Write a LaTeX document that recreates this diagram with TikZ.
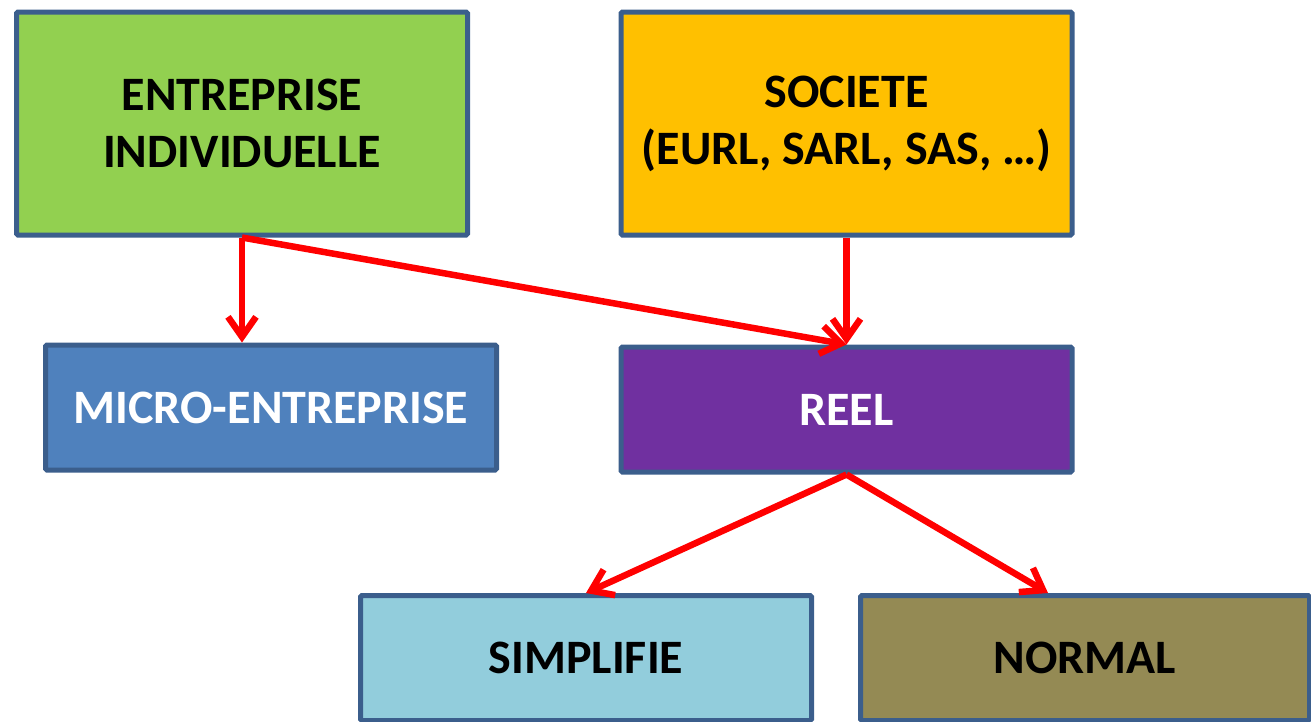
\documentclass[tikz,border=0pt]{standalone}
\usepackage{fontspec}
\setmainfont{Carlito}
\usetikzlibrary{arrows.meta}
\definecolor{bord}{HTML}{3B5E8C}
\definecolor{eigreen}{HTML}{92D050}
\definecolor{socorange}{HTML}{FFC000}
\definecolor{microblue}{HTML}{4F81BD}
\definecolor{reelpurple}{HTML}{7030A0}
\definecolor{simplblue}{HTML}{92CDDC}
\definecolor{normolive}{HTML}{948A54}
\begin{document}
\begin{tikzpicture}[x=1pt,y=-1pt,
  box/.style={draw=bord,line width=5pt,rounded corners=1.5pt,minimum width=451pt,
    font=\fontsize{48}{57}\selectfont\bfseries,align=center},
  tall/.style={box,minimum height=223pt},
  low/.style={box,minimum height=125pt},
  link/.style={draw=red,line width=6.5pt,-{Straight Barb[length=20pt,width=28pt]}}]
  \useasboundingbox (0,0) rectangle (1311,721);
  % top row
  \node[tall,fill=eigreen] (ei) at (242,123.5) {ENTREPRISE\\INDIVIDUELLE};
  \node[tall,fill=socorange] (soc) at (846.5,123.5) {SOCIETE\\(EURL, SARL, SAS, …)};
  % middle row
  \node[low,fill=microblue,text=white] (micro) at (271,407.5) {MICRO-ENTREPRISE};
  \node[low,fill=reelpurple,text=white] (reel) at (846.5,409.5) {REEL};
  % bottom row
  \node[low,fill=simplblue] (simpl) at (586,658) {SIMPLIFIE};
  \node[low,fill=normolive,minimum width=449pt] (normal) at (1085,658) {NORMAL};
  \coordinate (normtop) at ([xshift=-37pt]normal.north);
  % arrows
  \draw[link] (ei.south) -- (ei.south |- micro.north);
  \draw[link] (ei.south) -- (reel.north);
  \draw[link] (soc.south) -- (reel.north);
  \draw[link] (reel.south) -- (simpl.north);
  \draw[link] (reel.south) -- (normtop);
\end{tikzpicture}
\end{document}
